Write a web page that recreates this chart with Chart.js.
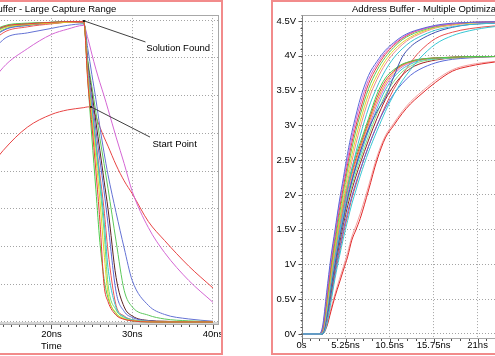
<!DOCTYPE html>
<html><head><meta charset="utf-8">
<script src="https://cdn.jsdelivr.net/npm/chart.js@4"></script>
<style>
html,body{margin:0;padding:0;background:#fff;overflow:hidden;width:495px;height:356px;position:relative}
canvas{position:absolute;top:0}
#cL{left:-149px}
#cR{left:273px}
.frame{position:absolute;top:0;height:355px;box-sizing:border-box;border:2px solid #f28b8b;pointer-events:none;z-index:5}
#fL{left:-10px;width:233px}
#fR{left:271px;width:400px}
</style></head><body>
<canvas id="cL" width="371" height="356"></canvas>
<canvas id="cR" width="322" height="356"></canvas>
<div class="frame" id="fL"></div>
<div class="frame" id="fR"></div>
<script>
// ---------- LEFT CHART DATA ----------
const titleL = 'Address Buffer - Large Capture Range';
const xTicksL = [0, 10, 20, 30, 40];
const xLabelsL = ['0s', '10ns', '20ns', '30ns', '40ns'];
const yTicksL = [0, 0.5, 1, 1.5, 2, 2.5, 3, 3.5, 4];
const yLabelsL = ['0V', '0.5V', '1V', '1.5V', '2V', '2.5V', '3V', '3.5V', '4V'];
const tL = [0, 2, 5, 8, 11, 14, 17, 20, 22, 24, 24.5, 25, 25.5, 26, 26.5, 27, 28, 29, 30, 32, 34, 37, 40];
const lGreen1  = [0, 1.3, 2.7, 3.35, 3.72, 3.92, 3.96, 3.97, 3.98, 3.98, 3.20, 2.45, 1.75, 1.05, 0.58, 0.32, 0.11, 0.04, 0.015, 0, 0, 0, 0];
const lRed1    = [0, 1.2, 2.6, 3.3, 3.7, 3.91, 3.95, 3.97, 3.98, 3.98, 3.18, 2.61, 2.00, 1.33, 0.50, 0.27, 0.09, 0.035, 0.015, 0, 0, 0, 0];
const lYellow  = [0, 1.1, 2.5, 3.2, 3.65, 3.89, 3.94, 3.96, 3.97, 3.98, 3.24, 2.71, 2.17, 1.61, 0.93, 0.38, 0.12, 0.045, 0.02, 0.005, 0, 0, 0];
const lGreen2  = [0, 1.25, 2.65, 3.3, 3.7, 3.9, 3.95, 3.97, 3.98, 3.98, 3.28, 2.79, 2.30, 1.80, 1.21, 0.50, 0.16, 0.06, 0.025, 0.005, 0, 0, 0];
const lCyan    = [0, 1.1, 2.5, 3.22, 3.66, 3.9, 3.95, 3.97, 3.98, 3.98, 3.30, 2.83, 2.36, 1.88, 1.36, 0.72, 0.19, 0.07, 0.03, 0.01, 0, 0, 0];
const lRed2    = [0, 0.9, 2.2, 3.0, 3.5, 3.83, 3.91, 3.95, 3.97, 3.97, 3.33, 2.87, 2.41, 1.95, 1.50, 0.94, 0.22, 0.08, 0.03, 0.01, 0, 0, 0];
const lBlue1   = [0, 1.0, 2.35, 3.1, 3.58, 3.86, 3.93, 3.96, 3.97, 3.97, 3.38, 2.96, 2.54, 2.14, 1.74, 1.30, 0.40, 0.14, 0.06, 0.015, 0.005, 0, 0];
const lDark    = [0, 1.15, 2.55, 3.25, 3.68, 3.9, 3.94, 3.96, 3.97, 3.97, 3.42, 3.04, 2.65, 2.27, 1.88, 1.50, 0.59, 0.20, 0.08, 0.02, 0.01, 0, 0];
const lGreen3  = [0, 1.05, 2.4, 3.15, 3.6, 3.87, 3.93, 3.96, 3.97, 3.96, 3.47, 3.12, 2.78, 2.43, 2.10, 1.77, 1.07, 0.42, 0.20, 0.09, 0.04, 0.015, 0.005];
const lBlue2   = [0, 0.7, 1.8, 2.6, 3.2, 3.74, 3.83, 3.89, 3.93, 3.95, 3.62, 3.28, 2.95, 2.58, 2.25, 1.95, 1.45, 0.98, 0.55, 0.22, 0.10, 0.04, 0.01];
const lMagenta = [0, 0.6, 1.5, 2.3, 2.9, 3.37, 3.62, 3.81, 3.88, 3.93, 3.76, 3.55, 3.35, 3.17, 3.00, 2.82, 2.45, 2.10, 1.73, 1.25, 0.92, 0.55, 0.26];
const lRedStart= [0, 0.35, 0.9, 1.4, 1.85, 2.27, 2.58, 2.75, 2.81, 2.84, 2.85, 2.83, 2.72, 2.58, 2.45, 2.33, 2.08, 1.87, 1.70, 1.33, 1.08, 0.74, 0.45];
const seriesL = [lRed1, lYellow, lGreen1, lCyan, lRed2, lGreen2, lBlue1, lDark, lGreen3, lBlue2, lMagenta, lRedStart];
const colorsL = ['#e83a3a', '#e0d62a', '#4ccc4c', '#38c4d0', '#f05858', '#70dc70', '#5a6ad8', '#5a2020', '#5cc85c', '#6472d4', '#d466d4', '#e84444'];
const notesL = [
  {text: 'Solution Found', from: [24.02, 3.99], to: [31.64, 3.71], at: [31.72, 3.63]},
  {text: 'Start Point', from: [24.89, 2.85], to: [32.2, 2.45], at: [32.5, 2.35]}
];

// ---------- RIGHT CHART DATA ----------
const titleR = 'Address Buffer - Multiple Optimizations';
const xTicksR = [0, 5.25, 10.5, 15.75, 21, 26.25, 31.5];
const xLabelsR = ['0s', '5.25ns', '10.5ns', '15.75ns', '21ns', '26.25ns', '31.5ns'];
const yTicksR = [0, 0.5, 1, 1.5, 2, 2.5, 3, 3.5, 4, 4.5];
const yLabelsR = ['0V', '0.5V', '1V', '1.5V', '2V', '2.5V', '3V', '3.5V', '4V', '4.5V'];
const tR = [0, 2, 2.5, 3, 3.5, 4, 4.5, 5, 5.5, 6, 6.5, 7, 8, 9, 10, 11, 12, 13, 14, 16, 18, 20, 23, 27, 31, 35];
const rA1 = [0,0,0.1,0.6,1.1,1.5,1.9,2.25,2.6,2.9,3.15,3.38,3.72,3.92,4.08,4.19,4.28,4.34,4.38,4.44,4.47,4.48,4.49,4.5,4.5,4.5];
const rA2 = [0,0,0.08,0.55,1.05,1.45,1.85,2.2,2.52,2.82,3.08,3.3,3.66,3.88,4.05,4.17,4.26,4.33,4.37,4.43,4.46,4.48,4.49,4.5,4.5,4.5];
const rA3 = [0,0,0.06,0.5,0.98,1.4,1.78,2.12,2.45,2.75,3.0,3.22,3.6,3.84,4.02,4.15,4.25,4.32,4.37,4.43,4.46,4.48,4.49,4.5,4.5,4.5];
const rA4 = [0,0,0.05,0.45,0.92,1.33,1.7,2.05,2.37,2.67,2.93,3.15,3.53,3.79,3.98,4.12,4.23,4.3,4.35,4.42,4.46,4.48,4.49,4.5,4.5,4.5];
const rA5 = [0,0,0.04,0.4,0.86,1.26,1.62,1.96,2.28,2.57,2.83,3.06,3.45,3.72,3.93,4.08,4.19,4.27,4.33,4.41,4.45,4.47,4.49,4.5,4.5,4.5];
const rA6 = [0,0,0.03,0.36,0.8,1.2,1.55,1.88,2.19,2.48,2.74,2.97,3.37,3.66,3.88,4.04,4.16,4.25,4.31,4.4,4.44,4.47,4.48,4.49,4.5,4.5];
const rA7 = [0,0,0.02,0.3,0.72,1.12,1.46,1.78,2.08,2.36,2.62,2.85,3.25,3.55,3.79,3.97,4.1,4.2,4.27,4.37,4.42,4.45,4.47,4.49,4.5,4.5];
const rA8 = [0,0,0,0.25,0.65,1.0,1.35,1.65,1.95,2.2,2.42,2.62,2.95,3.2,3.4,3.7,3.98,4.13,4.22,4.34,4.41,4.45,4.47,4.49,4.5,4.5];
const rB1 = [0,0,0.05,0.4,0.85,1.25,1.6,1.9,2.15,2.38,2.58,2.75,3.1,3.45,3.68,3.8,3.88,3.92,3.95,3.97,3.98,3.99,3.99,4,4,4];
const rB2 = [0,0,0.04,0.38,0.8,1.2,1.54,1.84,2.1,2.33,2.53,2.71,3.06,3.4,3.64,3.78,3.87,3.92,3.95,3.97,3.98,3.99,3.99,4,4,4];
const rB3 = [0,0,0.04,0.35,0.76,1.15,1.5,1.8,2.06,2.29,2.49,2.67,3.02,3.35,3.6,3.76,3.86,3.91,3.94,3.97,3.98,3.99,3.99,4,4,4];
const rB4 = [0,0,0.03,0.33,0.72,1.1,1.45,1.75,2.01,2.24,2.44,2.62,2.97,3.3,3.56,3.73,3.84,3.9,3.94,3.97,3.98,3.99,3.99,4,4,4];
const rB5 = [0,0,0.03,0.3,0.68,1.05,1.4,1.7,1.96,2.19,2.39,2.57,2.92,3.24,3.51,3.69,3.81,3.88,3.93,3.96,3.98,3.99,3.99,4,4,4];
const rB6 = [0,0,0.02,0.27,0.64,1.0,1.34,1.64,1.9,2.13,2.33,2.51,2.85,3.17,3.44,3.63,3.77,3.85,3.91,3.95,3.97,3.98,3.99,4,4,4];
const rB7 = [0,0,0.02,0.25,0.6,0.96,1.28,1.58,1.84,2.07,2.27,2.45,2.79,3.1,3.37,3.57,3.72,3.82,3.88,3.94,3.97,3.98,3.99,4,4,4];
const rB8 = [0,0,0,0.2,0.55,0.9,1.2,1.5,1.75,1.98,2.18,2.36,2.7,3.0,3.25,3.45,3.6,3.72,3.8,3.9,3.95,3.97,3.99,4,4,4];
const rS1 = [0,0,0.02,0.15,0.5,0.85,1.15,1.45,1.7,1.95,2.15,2.35,2.7,3.0,3.28,3.52,3.72,3.9,4.05,4.25,4.34,4.39,4.43,4.46,4.48,4.49];
const rS2 = [0,0,0,0.12,0.45,0.8,1.1,1.38,1.63,1.87,2.07,2.27,2.62,2.92,3.2,3.44,3.64,3.8,3.95,4.17,4.29,4.36,4.42,4.45,4.47,4.48];
const rR1 = [0,0,0,0.1,0.32,0.54,0.73,0.92,1.11,1.35,1.5,1.66,2.07,2.5,2.82,3.0,3.17,3.31,3.42,3.62,3.78,3.85,3.91,3.95,3.97,3.98];
const rR2 = [0,0,0,0.12,0.36,0.58,0.78,0.97,1.17,1.4,1.56,1.73,2.13,2.55,2.85,3.03,3.2,3.34,3.45,3.65,3.8,3.87,3.92,3.95,3.97,3.98];
const seriesR = [rS2, rA1, rA2, rA3, rA4, rA5, rA6, rA7, rA8, rB1, rB2, rB3, rB4, rB5, rB6, rB7, rB8, rS1, rR1, rR2];
const colorsR = ['#38c8d4', '#5a6ad8', '#d466d4', '#e84040', '#5cc85c', '#e0d62a', '#f08a8a', '#38c4d0', '#4050b0',
                 '#4ccc4c', '#e84040', '#f0a030', '#d466d4', '#38c4d0', '#80dc80', '#a02020', '#5a6ad8', '#e85050', '#e02828', '#f4a0a0'];

// ---------- RENDERING ----------
const FONT = '"Liberation Sans", Arial, sans-serif';
const tickFont = {family: FONT, size: 9.5};
const pts = (t, v) => t.map((x, i) => ({x: x, y: v[i]}));

const deco = {
  id: 'deco',
  beforeDatasetsDraw(chart, args, o) {
    const {ctx, chartArea: a} = chart;
    if (o.band) {
      ctx.save(); ctx.fillStyle = o.band.color;
      ctx.fillRect(a.left, a.bottom - o.band.h, a.right - a.left, o.band.h);
      ctx.restore();
    }
  },
  afterDraw(chart, args, o) {
    const {ctx, chartArea: a, scales} = chart;
    ctx.save();
    ctx.lineWidth = 1;
    ctx.strokeStyle = o.boxColor;
    const L = Math.round(a.left) + 0.5, T = Math.round(a.top) + 0.5, R = Math.round(a.right) - 0.5, B = Math.round(a.bottom) - 0.5;
    ctx.strokeRect(L, T, R - L, B - T);
    if (o.yAxisColor) {
      ctx.strokeStyle = o.yAxisColor;
      ctx.beginPath(); ctx.moveTo(L, T); ctx.lineTo(L, B + 0.5); ctx.stroke();
    }
    ctx.strokeStyle = o.tickColor;
    if (o.minorX) {
      const s = scales.x, m = o.minorX;
      const n = Math.floor((s.max - m.start) / m.step + 1e-6);
      ctx.beginPath();
      for (let i = 0; i <= n; i++) {
        const v = m.start + i * m.step;
        const p = Math.round(s.getPixelForValue(v)) + 0.5;
        const major = m.majors.some(q => Math.abs(q - v) < 1e-6);
        ctx.moveTo(p, Math.round(a.bottom)); ctx.lineTo(p, Math.round(a.bottom) + (major ? m.majorLen : m.len));
      }
      ctx.stroke();
    }
    if (o.minorY) {
      const s = scales.y, m = o.minorY;
      const n = Math.floor((s.max - m.start) / m.step + 1e-6);
      ctx.beginPath();
      for (let i = 0; i <= n; i++) {
        const v = m.start + i * m.step;
        const p = Math.round(s.getPixelForValue(v)) + 0.5;
        const major = m.majors.some(q => Math.abs(q - v) < 1e-6);
        ctx.moveTo(L, p); ctx.lineTo(L - (major ? m.majorLen : m.len), p);
      }
      ctx.stroke();
    }
    if (o.notes) {
      ctx.strokeStyle = '#404040'; ctx.fillStyle = '#000';
      ctx.font = '9.5px ' + FONT; ctx.textBaseline = 'middle'; ctx.textAlign = 'left';
      o.notes.forEach(nt => {
        const fx = scales.x.getPixelForValue(nt.from[0]), fy = scales.y.getPixelForValue(nt.from[1]);
        const tx = scales.x.getPixelForValue(nt.to[0]), ty = scales.y.getPixelForValue(nt.to[1]);
        ctx.beginPath(); ctx.moveTo(fx, fy); ctx.lineTo(tx, ty); ctx.stroke();
        ctx.fillStyle = '#202020'; ctx.fillRect(Math.round(fx) - 1, Math.round(fy) - 1, 2, 2);
        ctx.fillStyle = '#000';
        ctx.fillText(nt.text, scales.x.getPixelForValue(nt.at[0]), scales.y.getPixelForValue(nt.at[1]));
      });
    }
    ctx.restore();
  }
};

function makeChart(id, cfg) {
  return new Chart(document.getElementById(id), {
    type: 'line',
    data: {datasets: cfg.series.map((v, i) => ({data: pts(cfg.t, v), borderColor: cfg.colors[i], backgroundColor: cfg.colors[i], fill: false}))},
    options: {
      responsive: false, animation: false, events: [],
      layout: {padding: cfg.pad, autoPadding: false},
      elements: {point: {radius: 0}, line: {borderWidth: 1, cubicInterpolationMode: 'monotone'}},
      plugins: {
        legend: {display: false}, tooltip: {enabled: false},
        title: {display: true, text: cfg.title, color: '#000', font: {family: FONT, size: 9.5, weight: 'normal'}, padding: {top: 3.7, bottom: 0}},
        deco: cfg.deco
      },
      scales: {
        x: {
          type: 'linear', min: cfg.xMin, max: cfg.xMax,
          afterBuildTicks: s => { s.ticks = cfg.xTicks.map(v => ({value: v})); },
          afterFit: s => { s.height = cfg.xH; s.paddingLeft = 0; s.paddingRight = 0; },
          ticks: {autoSkip: false, maxRotation: 0, minRotation: 0, padding: cfg.xPad, color: '#000', font: tickFont,
                  callback: v => cfg.xLabels[cfg.xTicks.indexOf(v)]},
          grid: {color: '#a4a4a4', drawTicks: false, lineWidth: 1},
          border: {display: false, dash: [1, 2]},
          title: cfg.xTitle
        },
        y: {
          type: 'linear', min: cfg.yMin, max: cfg.yMax,
          afterBuildTicks: s => { s.ticks = cfg.yTicks.map(v => ({value: v})); },
          afterFit: s => { s.width = cfg.yW; s.paddingTop = 0; s.paddingBottom = 0; },
          ticks: {autoSkip: false, padding: 5.5, color: '#000', font: tickFont,
                  callback: v => cfg.yLabels[cfg.yTicks.indexOf(v)]},
          grid: {color: '#a4a4a4', drawTicks: false, lineWidth: 1},
          border: {display: false, dash: [1, 2]}
        }
      }
    },
    plugins: [deco]
  });
}

makeChart('cL', {
  t: tL, series: seriesL, colors: colorsL, title: titleL,
  pad: {left: 0, right: 3, top: 0, bottom: 0},
  xMin: -0.75, xMax: 40.743, xTicks: xTicksL, xLabels: xLabelsL, xH: 31, xPad: 3.9,
  xTitle: {display: true, text: 'Time', color: '#000', font: tickFont, padding: {top: 0, bottom: 4}},
  yMin: -0.04, yMax: 4.066, yTicks: yTicksL, yLabels: yLabelsL, yW: 32.9,
  deco: {boxColor: '#a8a8a8', tickColor: '#505050', band: {h: 3, color: '#d4d4d4'},
         minorX: {start: 0, step: 1, len: 2, majorLen: 4, majors: xTicksL}, notes: notesL}
});

makeChart('cR', {
  t: tR, series: seriesR, colors: colorsR, title: titleR,
  pad: {left: 0, right: 0, top: 0, bottom: 0},
  xMin: 0, xMax: 35, xTicks: xTicksR, xLabels: xLabelsR, xH: 17, xPad: 0.5,
  xTitle: {display: false},
  yMin: -0.072, yMax: 4.586, yTicks: yTicksR, yLabels: yLabelsR, yW: 28.5,
  deco: {boxColor: '#a8a8a8', yAxisColor: '#808080', tickColor: '#505050',
         minorX: {start: 0, step: 1.05, len: 2, majorLen: 4, majors: xTicksR},
         minorY: {start: 0, step: 0.1, len: 2, majorLen: 4, majors: yTicksR}}
});
</script>
</body></html>
